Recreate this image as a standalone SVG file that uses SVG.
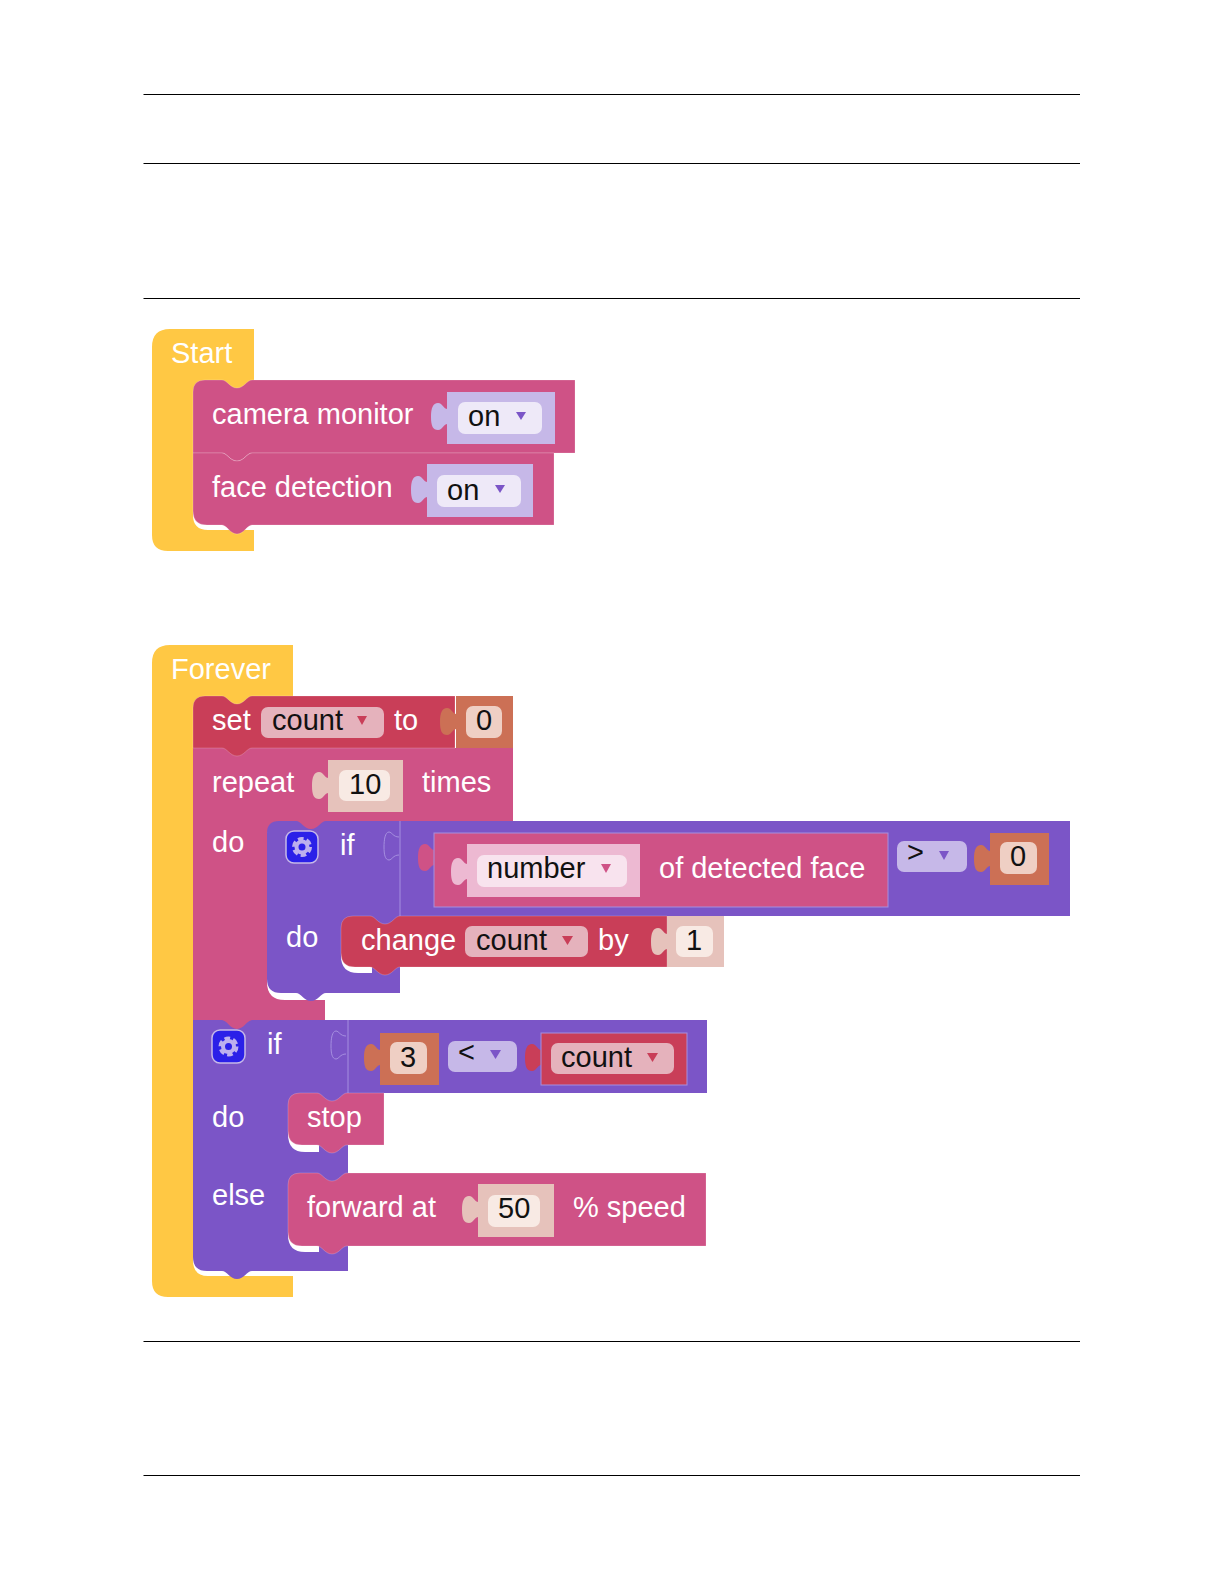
<svg xmlns="http://www.w3.org/2000/svg" width="1224" height="1584" viewBox="0 0 1224 1584">
<style>
text{font-family:"Liberation Sans",Arial,sans-serif;font-size:29px}
.w{fill:#fff}.k{fill:#111}
.rule{stroke:#000;stroke-width:1}
.y{fill:#FFC844}.p{fill:#CF5286}.r{fill:#C93E58}.v{fill:#7B55C7}.o{fill:#CC7055}
.e{stroke:#fff;stroke-opacity:.2;stroke-width:1}
.lv{fill:#C6B8E8}.fv{fill:#EEE9F8}.lo{fill:#E6C2BB}.fo{fill:#F8EAE4}.lr{fill:#E5B2BC}.lp{fill:#EDB9D2}.fp{fill:#F8E3EE}.fo2{fill:#EFCFC4}
.gb{fill:#2B20E8;stroke:#C6B8E8;stroke-width:1.5}.gc{fill:none;stroke:#BDB0EE}
.sock{fill:none;stroke:#A68FE0;stroke-width:1}
.gap{fill:#fff}
</style>
<defs>
<path id="tab" d="M16.500 7C12 7 12 1 7 1C2 1 0 6 0 15S2 28 7 28C12 28 12 22 16.500 22Z"/>
<g id="gear"><circle class="gc" r="5.500" stroke-width="4"/><circle class="gc" r="8" stroke-width="4" stroke-dasharray="5.400 3"/></g>
</defs>
<g id="rules">
<path class="rule" d="M143.500 94.500H1080M143.500 163.500H1080M143.500 298.500H1080M143.500 1341.500H1080M143.500 1475.500H1080"/>
</g>
<g id="start">
<path class="y" d="M152 347Q152 329 170 329H254V392H193V515Q193 530 208 530H254V551H168Q152 551 152 535Z"/>
<text class="w" x="171" y="363">Start</text>
</g>
<g id="camera-monitor">
<path class="p e" d="M193 392Q193 380 205 380H222C227 380 230 388 237 388S247 380 252 380H575V453H252C247 453 244 461 237 461S227 453 222 453H193Z"/>
<text class="w" x="212" y="424">camera monitor</text>
<use href="#tab" x="431" y="402" class="lv"/>
<rect class="lv" x="447" y="392" width="108" height="52"/>
<rect class="fv" x="458" y="402" width="84" height="32" rx="7"/>
<text class="k" x="468" y="426">on</text>
<path class="v" d="M516 412H526L521 420Z"/>
</g>
<g id="face-detection">
<path class="p e" d="M193 453H222C227 453 230 461 237 461S247 453 252 453H554V525H252C247 525 244 534 237 534S227 525 222 525H207Q193 525 193 511Z"/>
<text class="w" x="212" y="497">face detection</text>
<use href="#tab" x="411" y="475" class="lv"/>
<rect class="lv" x="427" y="464" width="106" height="53"/>
<rect class="fv" x="437" y="475" width="84" height="32" rx="7"/>
<text class="k" x="447" y="500">on</text>
<path class="v" d="M495 485H505L500 493Z"/>
</g>
<g id="forever">
<path class="y" d="M152 663Q152 645 170 645H293V708H193V1260Q193 1276 208 1276H293V1297H168Q152 1297 152 1281Z"/>
<text class="w" x="171" y="679">Forever</text>
</g>
<g id="repeat">
<path class="p" d="M193 748H513V821H327V832H267V982Q267 1000 285 1000H325V1021H252C247 1021 244 1029 237 1029S227 1021 222 1021H193Z"/>
<text class="w" x="212" y="792">repeat</text>
<use href="#tab" x="312" y="771" class="lo"/>
<rect class="lo" x="328" y="760" width="75" height="52"/>
<rect class="fo" x="339" y="770" width="51" height="31" rx="7"/>
<text class="k" x="349" y="794">10</text>
<text class="w" x="422" y="792">times</text>
<text class="w" x="212" y="852">do</text>
</g>
<g id="set-count">
<path class="r e" d="M193 708Q193 696 205 696H222C227 696 230 704 237 704S247 696 252 696H455V748H252C247 748 244 756 237 756S227 748 222 748H193Z"/>
<text class="w" x="212" y="730">set</text>
<rect class="lr" x="261" y="707" width="123" height="31" rx="7"/>
<text class="k" x="272" y="730">count</text>
<path class="r" d="M357 716H367L362 725Z"/>
<text class="w" x="394" y="730">to</text>
<use href="#tab" x="440" y="707" class="o"/>
<rect class="o" x="456" y="696" width="57" height="52"/>
<rect class="fo2" x="466" y="706" width="36" height="32" rx="7"/>
<text class="k" x="476" y="730">0</text>
</g>
<g id="if-inner">
<path class="v" d="M267 833Q267 821 279 821H296C301 821 304 829 311 829S321 821 326 821H1070V916H400V993H326C321 993 318 1001 311 1001S301 993 296 993H281Q267 993 267 979Z"/>
<path d="M400 821V916" stroke="#A68FE0" stroke-width="1" fill="none"/>
<rect class="gb" x="286" y="831" width="32" height="32" rx="8"/>
<use href="#gear" x="302" y="847"/>
<text class="w" x="340" y="855">if</text>
<path class="sock" d="M399 837C393 837 392 832 389 832C385 832 384 840 384 847S385 860 389 860C392 860 393 855 399 855"/>
<text class="w" x="286" y="947">do</text>
</g>
<g id="number-of-face">
<use href="#tab" x="418" y="843" class="p"/>
<rect class="p" x="434" y="833" width="454" height="74" stroke="#A68FE0" stroke-width="1"/>
<use href="#tab" x="451" y="857" class="lp"/>
<rect class="lp" x="467" y="844" width="173" height="53"/>
<rect class="fp" x="477" y="855" width="150" height="32" rx="7"/>
<text class="k" x="487" y="878">number</text>
<path class="p" d="M601 864H611L606 873Z"/>
<text class="w" x="659" y="878">of detected face</text>
</g>
<g id="compare-gt">
<rect class="lv" x="897" y="841" width="70" height="31" rx="7"/>
<text class="k" x="907" y="862">&gt;</text>
<path class="v" d="M939 851H949L944 860Z"/>
<use href="#tab" x="974" y="844" class="o"/>
<rect class="o" x="990" y="833" width="59" height="52"/>
<rect class="fo2" x="1000" y="842" width="37" height="32" rx="7"/>
<text class="k" x="1010" y="866">0</text>
</g>
<g id="change-count">
<path class="gap" d="M341 950V956Q341 973 358 973H372V950Z"/>
<path class="r e" d="M341 928Q341 916 353 916H370C375 916 378 924 385 924S395 916 400 916H667V967H400C395 967 392 975 385 975S375 967 370 967H355Q341 967 341 953Z"/>
<text class="w" x="361" y="950">change</text>
<rect class="lr" x="465" y="926" width="123" height="31" rx="7"/>
<text class="k" x="476" y="950">count</text>
<path class="r" d="M562 936H573L567.500 945Z"/>
<text class="w" x="598" y="950">by</text>
<use href="#tab" x="651" y="927" class="lo"/>
<rect class="lo" x="667" y="916" width="57" height="51"/>
<rect class="fo" x="676" y="926" width="37" height="31" rx="7"/>
<text class="k" x="686" y="950">1</text>
</g>
<g id="if-outer">
<path class="v" d="M193 1020H222C227 1020 230 1028 237 1028S247 1020 252 1020H707V1093H348V1271H252C247 1271 244 1279 237 1279S227 1271 222 1271H207Q193 1271 193 1257Z"/>
<path d="M222 1020C227 1020 230 1029 237 1029S247 1020 252 1020Z" class="p"/>
<rect class="gb" x="212" y="1030" width="33" height="33" rx="8"/>
<use href="#gear" x="228.500" y="1046.500"/>
<text class="w" x="267" y="1054">if</text>
<path d="M348 1020V1093" stroke="#A68FE0" stroke-width="1" fill="none"/>
<path class="sock" d="M346 1036C340 1036 339 1031 336 1031C332 1031 331 1039 331 1046S332 1059 336 1059C339 1059 340 1054 346 1054"/>
<use href="#tab" x="364" y="1043" class="o"/>
<rect class="o" x="380" y="1033" width="59" height="52"/>
<rect class="fo2" x="390" y="1042" width="37" height="32" rx="7"/>
<text class="k" x="400" y="1067">3</text>
<rect class="lv" x="448" y="1041" width="69" height="31" rx="7"/>
<text class="k" x="458" y="1062">&lt;</text>
<path class="v" d="M490 1050H501L495.500 1059Z"/>
<use href="#tab" x="525" y="1043" class="r"/>
<rect class="r" x="541" y="1033" width="146" height="52" stroke="#A68FE0" stroke-width="1"/>
<rect class="lr" x="551" y="1043" width="123" height="31" rx="7"/>
<text class="k" x="561" y="1067">count</text>
<path class="r" d="M647 1053H658L652.500 1062Z"/>
<text class="w" x="212" y="1127">do</text>
<text class="w" x="212" y="1205">else</text>
</g>
<g id="stop">
<path class="gap" d="M288 1128V1134Q288 1152 305 1152H319V1128Z"/>
<path class="p e" d="M288 1105Q288 1093 300 1093H317C322 1093 325 1101 332 1101S342 1093 347 1093H384V1145H347C342 1145 339 1153 332 1153S322 1145 317 1145H302Q288 1145 288 1131Z"/>
<text class="w" x="307" y="1127">stop</text>
</g>
<g id="forward">
<path class="gap" d="M288 1228V1235Q288 1252 305 1252H319V1228Z"/>
<path class="p e" d="M288 1185Q288 1173 300 1173H317C322 1173 325 1181 332 1181S342 1173 347 1173H706V1246H347C342 1246 339 1254 332 1254S322 1246 317 1246H302Q288 1246 288 1232Z"/>
<text class="w" x="307" y="1217">forward at</text>
<use href="#tab" x="462" y="1195" class="lo"/>
<rect class="lo" x="478" y="1184" width="76" height="53"/>
<rect class="fo" x="488" y="1195" width="52" height="32" rx="7"/>
<text class="k" x="498" y="1218">50</text>
<text class="w" x="573" y="1217">% speed</text>
</g>
</svg>
